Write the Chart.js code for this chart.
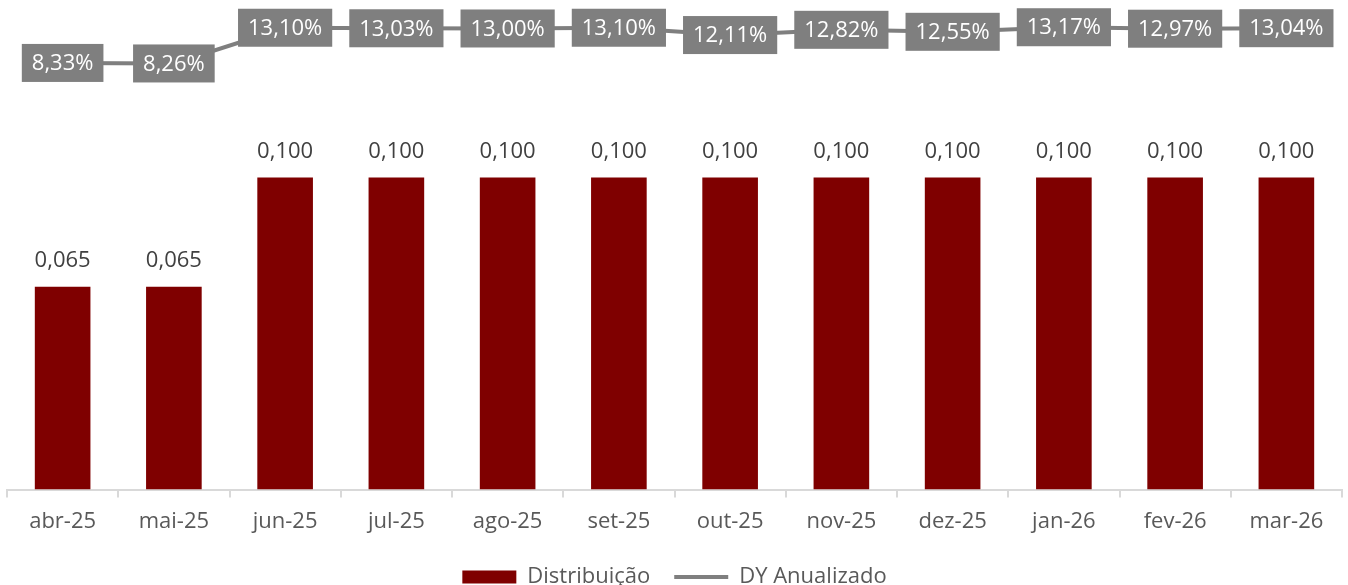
<!DOCTYPE html>
<html>
<head>
<meta charset="utf-8">
<script src="https://cdn.jsdelivr.net/npm/chart.js@4.4.1/dist/chart.umd.min.js"></script>
<style>
  html, body { margin: 0; padding: 0; background: #fff; }
  #wrap { width: 1348px; height: 585px; position: relative; }
</style>
</head>
<body>
<div id="wrap"><canvas id="grafico"></canvas></div>
<script>
// dados do gráfico
const meses = ['abr-25', 'mai-25', 'jun-25', 'jul-25', 'ago-25', 'set-25', 'out-25', 'nov-25', 'dez-25', 'jan-26', 'fev-26', 'mar-26'];
const distribuicao = [0.065, 0.065, 0.100, 0.100, 0.100, 0.100, 0.100, 0.100, 0.100, 0.100, 0.100, 0.100];
const dyAnualizado = [8.33, 8.26, 13.10, 13.03, 13.00, 13.10, 12.11, 12.82, 12.55, 13.17, 12.97, 13.04];

const FONTE = '"Open Sans", "Noto Sans", sans-serif';

function fmtDist(v) {
    return v.toFixed(3).replace('.', ',');
}

function fmtDy(v) {
    return v.toFixed(2).replace('.', ',') + '%';
}

// rótulos das barras e caixas da linha
const rotulos = {
    id: 'rotulos',
    afterDatasetsDraw(chart) {
        const ctx = chart.ctx;
        ctx.save();
        ctx.font = '22px ' + FONTE;
        ctx.textAlign = 'center';
        ctx.textBaseline = 'middle';

        chart.getDatasetMeta(0).data.forEach((bar, i) => {
            ctx.fillStyle = '#404040';
            ctx.fillText(fmtDist(distribuicao[i]), bar.x, bar.y - 26);
        });

        chart.getDatasetMeta(1).data.forEach((pt, i) => {
            const txt = fmtDy(dyAnualizado[i]);
            const w = ctx.measureText(txt).width + 20;
            const h = 38;
            ctx.fillStyle = '#7f7f7f';
            ctx.fillRect(pt.x - w / 2, pt.y - h / 2, w, h);
            ctx.fillStyle = '#ffffff';
            ctx.fillText(txt, pt.x, pt.y + 1);
        });
        ctx.restore();
    }
};

const ctx = document.getElementById('grafico').getContext('2d');

new Chart(ctx, {
    type: 'bar',
    data: {
        labels: meses,
        datasets: [{
            type: 'bar',
            label: 'Distribuição',
            data: distribuicao,
            backgroundColor: '#7f0000',
            categoryPercentage: 1,
            barPercentage: 0.5,
            yAxisID: 'y',
            order: 2
        }, {
            type: 'line',
            label: 'DY Anualizado',
            data: dyAnualizado,
            borderColor: '#7f7f7f',
            backgroundColor: '#7f7f7f',
            borderWidth: 4,
            pointRadius: 0,
            tension: 0,
            clip: false,
            yAxisID: 'y2',
            order: 1
        }]
    },
    options: {
        responsive: true,
        maintainAspectRatio: false,
        animation: false,
        layout: {
            padding: { left: 7, right: 6, top: 20, bottom: -13 }
        },
        plugins: {
            tooltip: { enabled: false },
            legend: {
                position: 'bottom',
                labels: {
                    usePointStyle: true,
                    pointStyleWidth: 54,
                    boxHeight: 13,
                    padding: 24,
                    color: '#595959',
                    font: { size: 22, family: FONTE },
                    generateLabels(chart) {
                        const itens = Chart.defaults.plugins.legend.labels.generateLabels(chart);
                        itens.sort((a, b) => a.datasetIndex - b.datasetIndex);
                        itens.forEach(it => {
                            if (it.datasetIndex === 0) {
                                it.pointStyle = 'rect';
                                it.lineWidth = 0;
                                it.fillStyle = '#7f0000';
                                it.strokeStyle = '#7f0000';
                            } else {
                                it.pointStyle = 'line';
                                it.lineWidth = 4;
                                it.strokeStyle = '#7f7f7f';
                            }
                        });
                        return itens;
                    }
                }
            }
        },
        scales: {
            x: {
                grid: {
                    display: true,
                    drawOnChartArea: false,
                    drawTicks: true,
                    tickLength: 8,
                    color: '#d9d9d9',
                    lineWidth: 2,
                    offset: true
                },
                border: { color: '#d9d9d9', width: 2 },
                ticks: {
                    color: '#595959',
                    font: { size: 22, family: FONTE },
                    padding: 11
                },
                afterFit(scale) {
                    scale.height -= 4;
                }
            },
            y: {
                display: false,
                min: 0,
                max: 0.1505
            },
            y2: {
                display: false,
                position: 'right',
                min: -49.5,
                max: 14.15
            }
        }
    },
    plugins: [rotulos]
});
</script>
</body>
</html>
